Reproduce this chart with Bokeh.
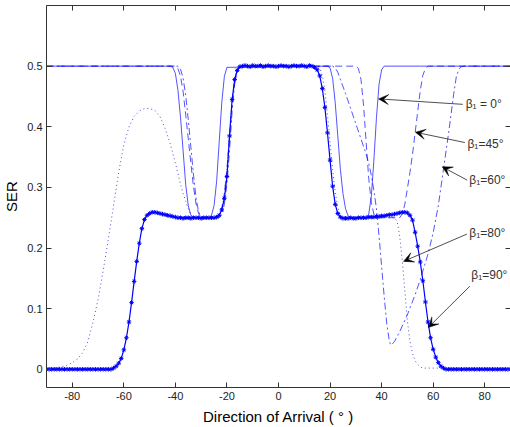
from bokeh.plotting import figure
from bokeh.models import LinearAxis, FixedTicker, Range1d, Arrow, VeeHead, Label
from bokeh.embed import file_html
from bokeh.resources import INLINE

# ---------------- data ----------------
# Direction of arrival grid for the beta=90 curve (one sample per degree)
doa_b90 = [
    -90, -89, -88, -87, -86, -85, -84, -83, -82, -81,
    -80, -79, -78, -77, -76, -75, -74, -73, -72, -71,
    -70, -69, -68, -67, -66, -65, -64, -63, -62, -61,
    -60, -59, -58, -57, -56, -55, -54, -53, -52, -51,
    -50, -49, -48, -47, -46, -45, -44, -43, -42, -41,
    -40, -39, -38, -37, -36, -35, -34, -33, -32, -31,
    -30, -29, -28, -27, -26, -25, -24, -23, -22, -21,
    -20, -19, -18, -17, -16, -15, -14, -13, -12, -11,
    -10, -9, -8, -7, -6, -5, -4, -3, -2, -1,
    0, 1, 2, 3, 4, 5, 6, 7, 8, 9,
    10, 11, 12, 13, 14, 15, 16, 17, 18, 19,
    20, 21, 22, 23, 24, 25, 26, 27, 28, 29,
    30, 31, 32, 33, 34, 35, 36, 37, 38, 39,
    40, 41, 42, 43, 44, 45, 46, 47, 48, 49,
    50, 51, 52, 53, 54, 55, 56, 57, 58, 59,
    60, 61, 62, 63, 64, 65, 66, 67, 68, 69,
    70, 71, 72, 73, 74, 75, 76, 77, 78, 79,
    80, 81, 82, 83, 84, 85, 86, 87, 88, 89,
    90,
]
ser_b90 = [
    0.000, 0.000, 0.000, 0.000, 0.000, 0.000, 0.000, 0.000, 0.000, 0.000,
    0.000, 0.000, 0.000, 0.000, 0.000, 0.000, 0.000, 0.000, 0.000, 0.000,
    0.000, 0.000, 0.000, 0.000, 0.000, 0.000, 0.002, 0.005, 0.010, 0.018,
    0.032, 0.052, 0.078, 0.110, 0.145, 0.178, 0.208, 0.232, 0.247, 0.254,
    0.257, 0.259, 0.259, 0.258, 0.257, 0.256, 0.255, 0.254, 0.253, 0.252,
    0.251, 0.250, 0.250, 0.249, 0.250, 0.250, 0.249, 0.250, 0.250, 0.250,
    0.249, 0.250, 0.250, 0.250, 0.250, 0.250, 0.251, 0.254, 0.263, 0.282,
    0.318, 0.385, 0.445, 0.478, 0.493, 0.499, 0.500, 0.501, 0.500, 0.499,
    0.501, 0.500, 0.500, 0.501, 0.499, 0.500, 0.501, 0.500, 0.500, 0.499,
    0.500, 0.501, 0.500, 0.500, 0.499, 0.500, 0.501, 0.500, 0.500, 0.501,
    0.500, 0.499, 0.501, 0.500, 0.498, 0.494, 0.484, 0.463, 0.432, 0.390,
    0.345, 0.302, 0.272, 0.257, 0.251, 0.249, 0.249, 0.249, 0.250, 0.249,
    0.249, 0.250, 0.250, 0.250, 0.250, 0.251, 0.251, 0.251, 0.252, 0.252,
    0.253, 0.253, 0.254, 0.255, 0.255, 0.256, 0.257, 0.258, 0.259, 0.259,
    0.258, 0.254, 0.246, 0.226, 0.203, 0.177, 0.146, 0.111, 0.078, 0.052,
    0.033, 0.020, 0.011, 0.005, 0.002, 0.000, 0.000, 0.000, 0.000, 0.000,
    0.000, 0.000, 0.000, 0.000, 0.000, 0.000, 0.000, 0.000, 0.000, 0.000,
    0.000, 0.000, 0.000, 0.000, 0.000, 0.000, 0.000, 0.000, 0.000, 0.000,
    0.000,
]

# beta = 0 deg (solid)
doa_b0 = [-90, -42, -41, -40, -39, -38, -37, -36, -35, -34, -33,
          -27, -26, -25, -24, -23, -22, -21, -20,
          19, 20, 21, 22, 23, 24, 25, 26, 27, 28,
          34, 35, 36, 37, 38, 39, 40, 41, 90]
ser_b0 = [0.5, 0.5, 0.498, 0.488, 0.46, 0.415, 0.36, 0.305, 0.27, 0.254, 0.25,
          0.25, 0.254, 0.27, 0.31, 0.375, 0.44, 0.483, 0.498,
          0.5, 0.497, 0.48, 0.44, 0.385, 0.33, 0.29, 0.265, 0.253, 0.25,
          0.25, 0.256, 0.285, 0.345, 0.415, 0.47, 0.494, 0.5, 0.5]

# beta = 45 deg (dashed)
doa_b45 = [-90, -40, -39, -38, -37, -36, -35, -34, -33, -32, -31, -30,
           -24, -23, -22, -21, -20, -19, -18, -17, -16, -15,
           30, 31, 32, 33, 34, 35, 36, 37, 38,
           47, 48, 49, 50, 51, 52, 53, 54, 55, 56, 57, 58, 90]
ser_b45 = [0.5, 0.5, 0.496, 0.483, 0.458, 0.42, 0.38, 0.34, 0.302, 0.273, 0.257, 0.25,
           0.25, 0.254, 0.266, 0.29, 0.33, 0.385, 0.44, 0.478, 0.495, 0.5,
           0.5, 0.496, 0.478, 0.435, 0.375, 0.315, 0.275, 0.256, 0.25,
           0.25, 0.256, 0.272, 0.298, 0.325, 0.355, 0.39, 0.425, 0.46, 0.485, 0.496, 0.5, 0.5]

# beta = 60 deg (dash-dot)
doa_b60 = [-90, -39, -38, -37, -36, -35, -34, -33, -32, -31, -30,
           -23, -22, -21, -20, -19, -18, -17, -16, -15,
           21, 22, 23, 24, 26, 28, 30, 32, 34,
           35, 36, 37, 38, 39, 40, 41, 42, 43,
           43.5, 44, 45, 47, 50, 53, 55, 58, 60, 62, 64, 66, 68, 69, 70, 71, 72, 90]
ser_b60 = [0.5, 0.5, 0.495, 0.48, 0.452, 0.412, 0.367, 0.322, 0.283, 0.26, 0.251,
           0.25, 0.256, 0.272, 0.305, 0.36, 0.425, 0.47, 0.492, 0.5,
           0.5, 0.497, 0.49, 0.478, 0.455, 0.43, 0.405, 0.38, 0.355,
           0.34, 0.32, 0.295, 0.265, 0.22, 0.17, 0.12, 0.075, 0.047,
           0.04, 0.041, 0.046, 0.062, 0.09, 0.123, 0.148, 0.19, 0.225, 0.27, 0.33, 0.39, 0.455, 0.483, 0.495, 0.499, 0.5, 0.5]

# beta = 80 deg (dotted)
doa_b80 = [-90, -86, -83, -80, -78, -76, -74, -72, -70, -68,
           -66, -64, -62, -60, -58, -56, -54, -52, -50, -48,
           -46, -44, -42, -40, -38, -37, -36, -35, -34, -33,
           -24, -23, -22, -21, -20, -19, -18, -17, -16, -15,
           15, 16, 17, 18, 19, 20, 21, 22, 23, 24,
           25, 45, 46, 47, 48, 49, 50, 51, 52, 53,
           54, 55, 56, 90]
ser_b80 = [0.002, 0.003, 0.005, 0.011, 0.017, 0.027, 0.045, 0.077, 0.115, 0.163,
           0.215, 0.27, 0.325, 0.37, 0.4, 0.417, 0.426, 0.43, 0.43, 0.427,
           0.417, 0.397, 0.372, 0.34, 0.305, 0.29, 0.277, 0.265, 0.255, 0.25,
           0.25, 0.253, 0.264, 0.288, 0.33, 0.385, 0.44, 0.476, 0.494, 0.5,
           0.5, 0.497, 0.485, 0.46, 0.42, 0.375, 0.33, 0.292, 0.267, 0.255,
           0.25, 0.25, 0.244, 0.22, 0.18, 0.13, 0.08, 0.046, 0.026, 0.014,
           0.008, 0.004, 0.002, 0.002]

x_ticks = [-80, -60, -40, -20, 0, 20, 40, 60, 80]
x_tick_labels = ["-80", "-60", "-40", "-20", "0", "20", "40", "60", "80"]
y_ticks = [0, 0.1, 0.2, 0.3, 0.4, 0.5]
y_tick_labels = ["0", "0.1", "0.2", "0.3", "0.4", "0.5"]

# annotations: label text, label anchor, arrow tail and arrow tip (data units)
note_texts = ["\u03b2\u2081 = 0\u00b0", "\u03b2\u2081=45\u00b0", "\u03b2\u2081=60\u00b0",
              "\u03b2\u2081=80\u00b0", "\u03b2\u2081=90\u00b0"]
note_x = [72.6, 73.3, 74.0, 74.0, 74.8]
note_y = [0.437, 0.372, 0.312, 0.225, 0.156]
tail_x = [71.5, 72.3, 73.2, 73.1, 74.2]
tail_y = [0.437, 0.374, 0.312, 0.223, 0.137]
tip_x = [38.8, 53.1, 63.5, 48.5, 58.1]
tip_y = [0.446, 0.391, 0.334, 0.178, 0.069]

# ---------------- figure ----------------
FONT = "Liberation Sans"
p = figure(width=510, height=427,
           x_range=Range1d(-90, 90), y_range=Range1d(-0.03, 0.6),
           output_backend="svg", toolbar_location=None,
           min_border_left=10, min_border_right=0, min_border_top=5, min_border_bottom=0)
p.grid.visible = False
p.outline_line_color = None
p.background_fill_color = "white"
p.border_fill_color = "white"

blue = "#0000ff"
p.line(doa_b80, ser_b80, line_color="#3a3ad0", line_width=0.9, line_dash="1 3")
p.line(doa_b60, ser_b60, line_color=blue, line_width=0.8, line_alpha=0.85, line_dash="7 3 2 3")
p.line(doa_b45, ser_b45, line_color=blue, line_width=0.8, line_alpha=0.85, line_dash="7 4")
p.line(doa_b0, ser_b0, line_color=blue, line_width=0.8, line_alpha=0.85)
p.line(doa_b90, ser_b90, line_color=blue, line_width=1.2)
p.scatter(doa_b90, ser_b90, marker="asterisk", size=4.5, line_color=blue, line_width=1)

def style_axis(ax, ticks, labels=None, show_labels=True, show_line=True):
    ax.ticker = FixedTicker(ticks=ticks)
    ax.major_tick_in = 5
    ax.major_tick_out = 0
    ax.minor_tick_line_color = None
    ax.axis_line_color = "#333333" if show_line else None
    ax.major_tick_line_color = "#333333"
    if show_labels:
        ax.major_label_overrides = {t: l for t, l in zip(ticks, labels)}
        ax.major_label_text_font = FONT
        ax.major_label_text_font_size = "11px"
        ax.major_label_text_color = "#222222"
        ax.major_label_standoff = 4
    else:
        ax.major_label_text_color = None
        ax.major_label_text_alpha = 0
        ax.major_label_text_font_size = "1px"
        ax.major_label_standoff = 0

xa = p.xaxis[0]
style_axis(xa, x_ticks, x_tick_labels)
xa.axis_label = "Direction of Arrival ( \u00b0 )"
xa.axis_label_text_font = FONT
xa.axis_label_text_font_size = "15px"
xa.axis_label_text_font_style = "normal"
xa.axis_label_text_color = "#000000"
xa.axis_label_standoff = 5

ya = p.yaxis[0]
style_axis(ya, y_ticks, y_tick_labels)
ya.axis_label = "SER"
ya.axis_label_text_font = FONT
ya.axis_label_text_font_size = "15px"
ya.axis_label_text_font_style = "normal"
ya.axis_label_text_color = "#000000"
ya.axis_label_standoff = 4

top = LinearAxis()
style_axis(top, x_ticks, show_labels=False)
p.add_layout(top, "above")
right = LinearAxis()
style_axis(right, y_ticks, show_labels=False, show_line=False)
p.add_layout(right, "right")

for t, lx, ly, ax0, ay0, bx, by in zip(note_texts, note_x, note_y, tail_x, tail_y, tip_x, tip_y):
    p.add_layout(Arrow(end=VeeHead(size=10, fill_color="black", line_color="black", line_width=0.5),
                       x_start=ax0, y_start=ay0, x_end=bx, y_end=by,
                       line_color="#222222", line_width=0.8))
    p.add_layout(Label(x=lx, y=ly, text=t, text_font=FONT, text_font_size="12px",
                       text_color="#333333", text_baseline="middle", text_align="left"))

open("out.html", "w").write(file_html(p, INLINE))
